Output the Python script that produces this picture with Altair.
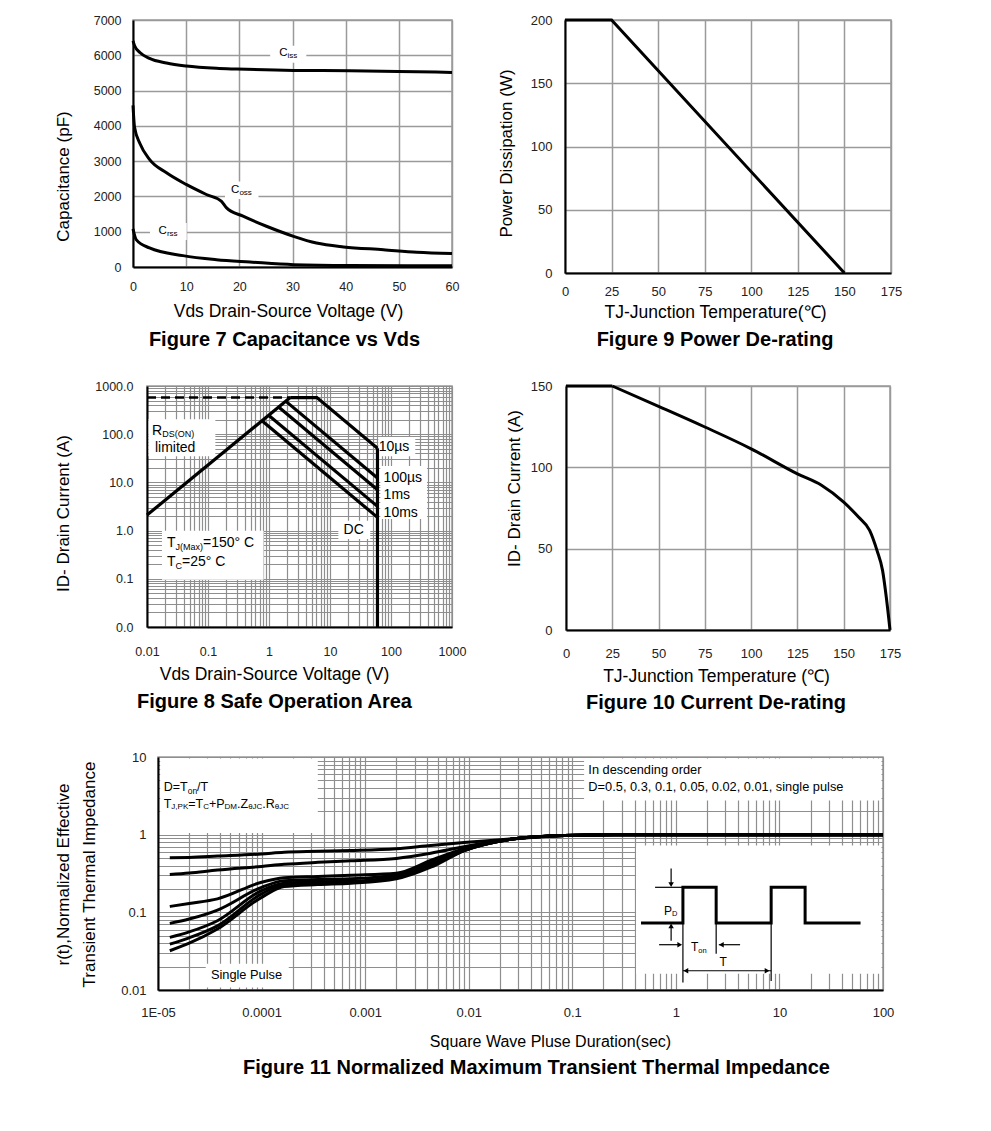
import altair as alt
import pandas as pd

FONT = "Liberation Sans"
GRID = "#9a9a9a"
GRID_LOG = "#8e8e8e"

# ---------------- Figure 7 : Capacitance vs Vds ----------------
ciss_v = [0, 0.3, 1.3, 3.1, 6.3, 10, 15.7, 19.5, 30.2, 40.8, 49.9, 60]
ciss_c = [6410, 6270, 6080, 5910, 5780, 5695, 5630, 5610, 5572, 5563, 5544, 5515]
coss_v = [0, 0.3, 1.3, 3.1, 6.3, 10, 13.8, 16.6, 17.6, 20.7, 25.1, 30.2, 34.5, 39.6, 47.1, 53.4, 60]
coss_c = [4580, 3950, 3500, 3050, 2670, 2340, 2055, 1865, 1675, 1440, 1155, 870, 680, 570, 490, 420, 380]
crss_v = [0, 0.6, 3.1, 9.4, 15.7, 22, 30.2, 40.8, 60]
crss_c = [1080, 776, 540, 322, 208, 142, 66, 42, 35]
f7_box_x1 = [25.8, 17.3, 3.2]
f7_box_x2 = [32.6, 23.6, 10.1]
f7_box_y1 = [5790, 1930, 765]
f7_box_y2 = [6270, 2420, 1250]

# ---------------- Figure 9 : Power De-rating ----------------
f9_t = [0, 25, 150]
f9_p = [200, 200, 0]

# ---------------- Figure 10 : Current De-rating ----------------
f10_flat_t = [0, 25]
f10_flat_i = [150, 150]
f10_t = [25, 50, 75, 100, 125, 138, 150, 158, 164, 168, 171, 173, 175]
f10_i = [150, 137.5, 124.8, 111.4, 96, 89, 78.6, 69.4, 61.2, 48.8, 36.5, 20.1, 0]

# ---------------- Figure 8 : Safe Operation Area ----------------
soa_names = ["rds", "10us", "100us", "1ms", "10ms", "dc", "bv"]
soa_v = [[0.01, 2.23], [2.23, 6.1, 60], [1.875, 60], [1.436, 60], [0.984, 60], [0.766, 60], [60, 60]]
soa_i = [[2.1, 575], [575, 575, 51], [485, 12.3], [367, 7.03], [248, 3.18], [191, 1.88], [51, 0.01]]
dash_v = [0.01, 2.23]
dash_i = [575, 575]
f8_box_x1 = [0.0106, 0.0176, 62, 66.8, 13.7]
f8_box_x2 = [0.132, 0.815, 250, 389, 45.7]
f8_box_y1 = [35, 0.096, 35, 1.74, 0.67]
f8_box_y2 = [204, 0.995, 87, 22, 1.6]

# ---------------- Figure 11 : Transient Thermal Impedance ----------------
zt_x = [1.3e-5, 2e-5, 3.75e-5, 1e-4, 1.65e-4, 3.5e-4, 7.3e-4, 2e-3, 4.3e-3, 9e-3, 2.75e-2, 8.4e-2, 0.25, 100]
zt_names = ["0.5", "0.3", "0.1", "0.05", "0.02", "0.01", "single"]
zt_y = [
    [0.503, 0.51, 0.53, 0.565, 0.594, 0.61, 0.625, 0.66, 0.726, 0.79, 0.885, 0.977, 1.0, 1.0],
    [0.306, 0.32, 0.35, 0.39, 0.415, 0.44, 0.46, 0.495, 0.577, 0.70, 0.885, 0.977, 1.0, 1.0],
    [0.119, 0.13, 0.149, 0.244, 0.278, 0.289, 0.30, 0.318, 0.465, 0.66, 0.885, 0.977, 1.0, 1.0],
    [0.072, 0.082, 0.107, 0.21, 0.256, 0.265, 0.27, 0.306, 0.44, 0.64, 0.885, 0.977, 1.0, 1.0],
    [0.0476, 0.056, 0.078, 0.191, 0.237, 0.248, 0.251, 0.289, 0.425, 0.63, 0.885, 0.977, 1.0, 1.0],
    [0.039, 0.047, 0.067, 0.173, 0.228, 0.238, 0.244, 0.283, 0.40, 0.625, 0.885, 0.977, 1.0, 1.0],
    [0.032, 0.040, 0.061, 0.156, 0.215, 0.228, 0.237, 0.270, 0.381, 0.62, 0.885, 0.977, 1.0, 1.0],
]
f11_box_x1 = [1.05e-5, 0.13, 0.413, 2.89e-5]
f11_box_x2 = [3.49e-4, 96.7, 96.7, 1.83e-4]
f11_box_y1 = [1.05, 2.76, 0.0162, 0.0108]
f11_box_y2 = [9.56, 9.56, 0.726, 0.0218]
# pulse inset
pulse_x = [0.461, 1.17, 1.17, 2.45, 2.45, 8.32, 8.32, 17.7, 17.7, 60.7]
pulse_y = [0.073, 0.073, 0.21, 0.21, 0.073, 0.073, 0.21, 0.21, 0.073, 0.073]
seg_x1 = [0.63, 0.9, 0.9, 1.17, 2.45, 8.32, 0.689, 2.6, 1.17]
seg_x2 = [1.17, 0.9, 0.9, 1.17, 2.45, 8.32, 1.1, 4.17, 8.32]
seg_y1 = [0.21, 0.366, 0.043, 0.073, 0.073, 0.073, 0.0383, 0.0383, 0.0177]
seg_y2 = [0.21, 0.23, 0.067, 0.0125, 0.0293, 0.0131, 0.0383, 0.0383, 0.0177]
head_x = [0.9, 0.9, 1.09, 2.75, 1.25, 7.6]
head_y = [0.228, 0.067, 0.0383, 0.0383, 0.0177, 0.0177]
head_s = ["triangle-down", "triangle-up", "triangle-right", "triangle-left", "triangle-left", "triangle-right"]

# ---------------- helpers ----------------
_W = {' ': .278, '(': .333, ')': .333, '+': .584, ',': .278, '-': .333, '.': .278, '/': .278,
      '=': .584, '°': .4, 'µ': .576, 'θ': .556}
for _c in '0123456789':
    _W[_c] = .556
_W.update(dict(A=.667, C=.722, D=.722, J=.5, K=.667, M=.833, N=.722, O=.778, P=.667, R=.722,
               S=.667, T=.611, Z=.611, I=.278))
_W.update(dict(a=.556, c=.5, d=.556, e=.556, g=.556, i=.222, l=.222, m=.833, n=.556, o=.556,
               p=.556, r=.333, s=.5, t=.278, u=.556, x=.5))


def tw(s, size):
    return sum(_W.get(c, .556) for c in s) * size


def frags(xe, ye, x, y, parts, align='left'):
    total = sum(tw(t, s) for t, s, _ in parts)
    cur = -total / 2 if align == 'center' else 0
    src = pd.DataFrame({'x': [x], 'y': [y]})
    out = []
    for t, s, dy in parts:
        out.append(alt.Chart(src).mark_text(text=t, align='left', baseline='middle', dx=cur, dy=dy,
                                            fontSize=s, font=FONT, color='black').encode(x=xe, y=ye))
        cur += tw(t, s)
    return out


def boxes(xe, ye, x1, x2, y1, y2):
    df = pd.DataFrame({'x': x1, 'x2': x2, 'y': y1, 'y2': y2})
    return alt.Chart(df).mark_rect(fill='white').encode(x=xe, x2='x2:Q', y=ye, y2='y2:Q')


def cap(text, dx, offset):
    return alt.TitleParams(text, orient='bottom', anchor='middle', frame='group', dx=dx, offset=offset)


def log_vals(lo, hi):
    v = []
    for e in range(lo, hi):
        for k in range(1, 10):
            v.append(k * 10.0 ** e)
    v.append(10.0 ** hi)
    return v


DEC = "abs(log(datum.value)/LN10 - round(log(datum.value)/LN10)) < 0.001"
TT = dict(titleBaseline='middle', titleAlign='center', titleFontSize=17.5)
TY = dict(titleBaseline='middle', titleAlign='center', titleAngle=270, titleFontSize=17)

# ---------------- Figure 7 ----------------
x7 = alt.X('x:Q', scale=alt.Scale(domain=[0, 60], nice=False, zero=False),
           axis=alt.Axis(values=list(range(0, 61, 10)), title='Vds Drain-Source Voltage (V)', labelPadding=13,
                         titleX=155, titleY=44, **TT))
y7 = alt.Y('y:Q', scale=alt.Scale(domain=[0, 7000], nice=False),
           axis=alt.Axis(values=list(range(0, 7001, 1000)), format='d', title='Capacitance (pF)', labelPadding=12,
                         titleX=-70, titleY=156, **TY))
df7 = pd.concat([
    pd.DataFrame({'x': ciss_v, 'y': ciss_c, 's': 'Ciss'}),
    pd.DataFrame({'x': coss_v, 'y': coss_c, 's': 'Coss'}),
    pd.DataFrame({'x': crss_v, 'y': crss_c, 's': 'Crss'}),
])
f7_layers = [boxes(x7, y7, f7_box_x1, f7_box_x2, f7_box_y1, f7_box_y2),
             alt.Chart(df7).mark_line(color='black', strokeWidth=3, interpolate='monotone').encode(
                 x=x7, y=y7, detail='s:N')]
f7_layers += frags(x7, y7, 29.2, 6060, [("C", 11.5, 0), ("iss", 8, 3)], 'center')
f7_layers += frags(x7, y7, 20.4, 2190, [("C", 11.5, 0), ("oss", 8, 3)], 'center')
f7_layers += frags(x7, y7, 6.6, 1030, [("C", 11.5, 0), ("rss", 8, 3)], 'center')
f7 = alt.layer(*f7_layers).properties(width=319, height=247, title=cap('Figure 7 Capacitance vs Vds', -8, 10))

# ---------------- Figure 9 ----------------
x9 = alt.X('x:Q', scale=alt.Scale(domain=[0, 175], nice=False),
           axis=alt.Axis(values=list(range(0, 176, 25)), title='TJ-Junction Temperature(℃)', labelPadding=12,
                         labelFontSize=13, titleX=150, titleY=39, **TT))
y9 = alt.Y('y:Q', scale=alt.Scale(domain=[0, 200], nice=False),
           axis=alt.Axis(values=list(range(0, 201, 50)), title='Power Dissipation (W)', labelPadding=13,
                         labelFontSize=13, titleX=-59, titleY=133, **TY))
f9 = alt.Chart(pd.DataFrame({'x': f9_t, 'y': f9_p})).mark_line(color='black', strokeWidth=3).encode(
    x=x9, y=y9).properties(width=326, height=253, title=cap('Figure 9 Power De-rating', -13, 9))

# ---------------- Figure 10 ----------------
x10 = alt.X('x:Q', scale=alt.Scale(domain=[0, 175], nice=False),
            axis=alt.Axis(values=list(range(0, 176, 25)), title='TJ-Junction Temperature (℃)', labelPadding=17,
                          labelFontSize=13, titleX=150, titleY=46, **TT))
y10 = alt.Y('y:Q', scale=alt.Scale(domain=[0, 150], nice=False),
            axis=alt.Axis(values=list(range(0, 151, 50)), title='ID- Drain Current (A)', labelPadding=14,
                          labelFontSize=13, titleX=-52, titleY=102, **TY))
f10 = alt.layer(
    alt.Chart(pd.DataFrame({'x': f10_flat_t, 'y': f10_flat_i})).mark_line(color='black', strokeWidth=3).encode(
        x=x10, y=y10),
    alt.Chart(pd.DataFrame({'x': f10_t, 'y': f10_i})).mark_line(
        color='black', strokeWidth=3, interpolate='monotone').encode(x=x10, y=y10),
).properties(width=324, height=244, title=cap('Figure 10 Current De-rating', -12, 8))

# ---------------- Figure 8 ----------------
x8 = alt.X('x:Q', scale=alt.Scale(type='log', domain=[0.01, 1000], nice=False),
           axis=alt.Axis(values=log_vals(-2, 3), labelExpr=DEC + " ? format(datum.value, '~g') : ''",
                         title='Vds Drain-Source Voltage (V)', labelPadding=18, gridWidth=1.2, gridColor=GRID_LOG,
                         titleX=127, titleY=47, **TT))
y8 = alt.Y('y:Q', scale=alt.Scale(type='log', domain=[0.01, 1000], nice=False),
           axis=alt.Axis(values=log_vals(-2, 3), labelExpr=DEC + " ? format(datum.value, '.1f') : ''",
                         title='ID- Drain Current (A)', labelPadding=14, gridWidth=1.2, gridColor=GRID_LOG,
                         titleX=-84, titleY=127, **TY))
rows = []
for nm, vv, ii in zip(soa_names, soa_v, soa_i):
    for k, (a, b) in enumerate(zip(vv, ii)):
        rows.append({'x': a, 'y': b, 's': nm, 'o': k})
df8 = pd.DataFrame(rows)
f8_layers = [boxes(x8, y8, f8_box_x1, f8_box_x2, f8_box_y1, f8_box_y2),
             alt.Chart(pd.DataFrame({'x': dash_v, 'y': dash_i})).mark_line(
                 color='black', strokeWidth=2.5, strokeDash=[9, 5]).encode(x=x8, y=y8),
             alt.Chart(df8).mark_line(color='black', strokeWidth=3.2).encode(
                 x=x8, y=y8, detail='s:N', order='o:Q')]
f8_layers += frags(x8, y8, 0.0121, 118, [("R", 14, 0), ("DS(ON)", 9, 3.5)])
f8_layers += frags(x8, y8, 0.0135, 52, [("limited", 14, 0)])
f8_layers += frags(x8, y8, 62.7, 53.8, [("10µs", 14, 0)])
f8_layers += frags(x8, y8, 75.7, 12.3, [("100µs", 14, 0)])
f8_layers += frags(x8, y8, 75.7, 5.46, [("1ms", 14, 0)])
f8_layers += frags(x8, y8, 75.7, 2.31, [("10ms", 14, 0)])
f8_layers += frags(x8, y8, 16.7, 1.04, [("DC", 14, 0)])
f8_layers += frags(x8, y8, 0.0213, 0.553, [("T", 14, 0), ("J(Max)", 9, 4), ("=150° C", 14, 0)])
f8_layers += frags(x8, y8, 0.0213, 0.224, [("T", 14, 0), ("C", 9, 4), ("=25° C", 14, 0)])
f8 = alt.layer(*f8_layers).properties(width=305, height=241, title=cap('Figure 8 Safe Operation Area', -25, 9))

# ---------------- Figure 11 ----------------
x11 = alt.X('x:Q', scale=alt.Scale(type='log', domain=[1e-5, 100], nice=False),
            axis=alt.Axis(values=log_vals(-5, 2),
                          labelExpr=DEC + " ? (datum.value < 0.00002 ? '1E-05' : format(datum.value, '~g')) : ''",
                          title='Square Wave Pluse Duration(sec)', labelPadding=16, gridWidth=1.2, gridColor=GRID_LOG,
                          labelFontSize=13, titleX=392, titleY=51, titleBaseline='middle', titleAlign='center',
                          titleFontSize=16))
y11 = alt.Y('y:Q', scale=alt.Scale(type='log', domain=[0.01, 10], nice=False),
            axis=alt.Axis(values=log_vals(-2, 1), labelExpr=DEC + " ? format(datum.value, '~g') : ''",
                          title=['r(t),Normalized Effective', 'Transient Thermal Impedance'], labelPadding=12,
                          gridWidth=1.2, gridColor=GRID_LOG, labelFontSize=13, titleX=-95, titleY=117,
                          titleLineHeight=26, **TY))
rows = []
for nm, yy in zip(zt_names, zt_y):
    for a, b in zip(zt_x, yy):
        rows.append({'x': a, 'y': b, 's': nm})
df11 = pd.DataFrame(rows)
f11_layers = [boxes(x11, y11, f11_box_x1, f11_box_x2, f11_box_y1, f11_box_y2),
              alt.Chart(df11).mark_line(color='black', strokeWidth=3, interpolate='monotone').encode(
                  x=x11, y=y11, detail='s:N'),
              alt.Chart(pd.DataFrame({'x': pulse_x, 'y': pulse_y, 'o': list(range(len(pulse_x)))})).mark_line(
                  color='black', strokeWidth=3).encode(x=x11, y=y11, order='o:Q'),
              alt.Chart(pd.DataFrame({'x': seg_x1, 'x2': seg_x2, 'y': seg_y1, 'y2': seg_y2})).mark_rule(
                  color='black', strokeWidth=1.2).encode(x=x11, x2='x2:Q', y=y11, y2='y2:Q'),
              alt.Chart(pd.DataFrame({'x': head_x, 'y': head_y, 'sh': head_s})).mark_point(
                  filled=True, color='black', size=30, opacity=1).encode(
                  x=x11, y=y11, shape=alt.Shape('sh:N', scale=None))]
f11_layers += frags(x11, y11, 1.135e-5, 4.1, [("D=T", 12.5, 0), ("on", 8.5, 3.5), ("/T", 12.5, 0)])
f11_layers += frags(x11, y11, 1.135e-5, 2.5, [("T", 12.5, 0), ("J,PK", 8, 3.5), ("=T", 12.5, 0), ("C", 8, 3.5),
                                              ("+P", 12.5, 0), ("DM", 8, 3.5), (".Z", 12.5, 0), ("θJC", 8, 3.5),
                                              (".R", 12.5, 0), ("θJC", 8, 3.5)])
f11_layers += frags(x11, y11, 0.143, 6.73, [("In descending order", 12.8, 0)])
f11_layers += frags(x11, y11, 0.143, 4.1, [("D=0.5, 0.3, 0.1, 0.05, 0.02, 0.01, single pulse", 12.8, 0)])
f11_layers += frags(x11, y11, 7.15e-5, 0.0155, [("Single Pulse", 12.8, 0)], 'center')
f11_layers += frags(x11, y11, 0.769, 0.105, [("P", 12, 0), ("D", 7.5, 3.5)])
f11_layers += frags(x11, y11, 1.40, 0.0353, [("T", 12, 0), ("on", 7.5, 3.5)])
f11_layers += frags(x11, y11, 2.86, 0.0226, [("T", 12, 0)], 'center')
f11 = alt.layer(*f11_layers).properties(
    width=725, height=233, title=cap('Figure 11 Normalized Maximum Transient Thermal Impedance', 16, 9))


# ---------------- layout ----------------
def sp():
    return alt.Chart(pd.DataFrame({'v': [0]})).mark_point(opacity=0, size=1).encode(
        x=alt.value(0), y=alt.value(0)).properties(width=1, height=1, view=alt.ViewBackground(strokeOpacity=0))


row1 = alt.hconcat(sp(), alt.hconcat(f7, f9, spacing=36), spacing=0)
row2 = alt.hconcat(sp(), alt.hconcat(f8, f10, spacing=37), spacing=0)
row3 = alt.hconcat(sp(), f11, spacing=0)
chart = alt.vconcat(
    alt.vconcat(row1, row2, spacing=28), row3, spacing=36,
    padding={'left': 43, 'top': 5, 'right': 5, 'bottom': 5}, background='white',
).configure_axis(
    labelFont=FONT, titleFont=FONT, labelColor='#222222', titleColor='#000000', labelFontSize=12.5,
    titleFontSize=17, titleFontWeight='normal', domainColor='#000000', domainWidth=2, ticks=False,
    gridColor=GRID, gridWidth=1.5, labelOverlap=False, labelFlush=False
).configure_view(stroke=GRID, strokeWidth=1.5).configure_title(
    font=FONT, fontSize=20, fontWeight='bold', color='#000000'
)

chart.save("out.html", embed_options={"renderer": "svg", "actions": False})
